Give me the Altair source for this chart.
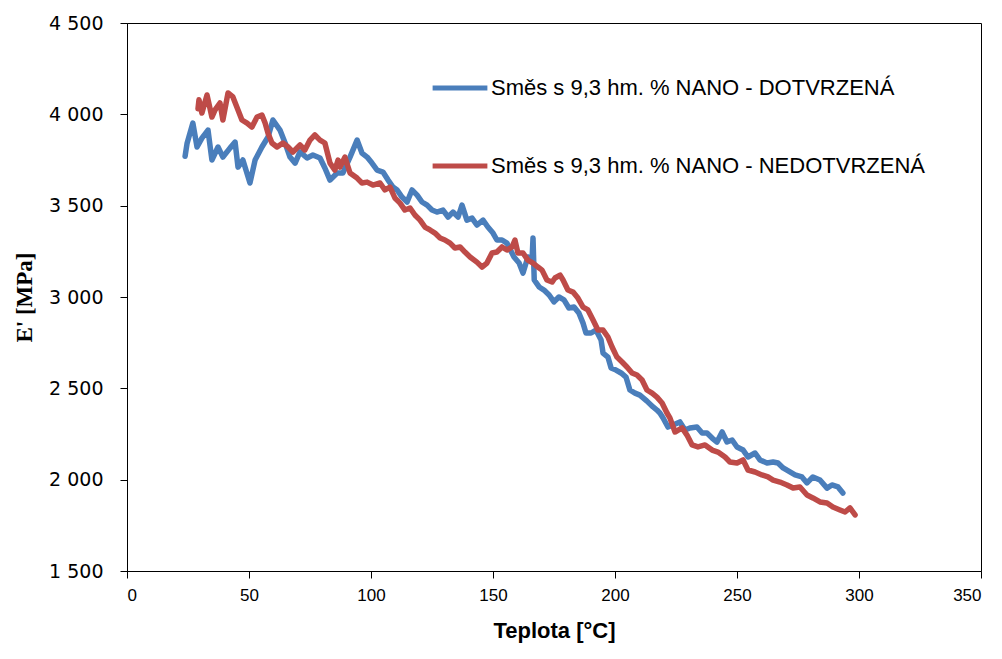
import altair as alt
import pandas as pd

series_names = ["Směs s 9,3 hm. % NANO - DOTVRZENÁ", "Směs s 9,3 hm. % NANO - NEDOTVRZENÁ"]
series_colors = ["#4A7EBB", "#BE4B48"]

blue_T = [23.8, 24.6, 27.0, 28.7, 30.7, 33.2, 34.8, 37.3, 39.3, 42.2, 44.3, 45.5, 47.5, 50.4, 52.5, 55.3,
          57.8, 59.8, 62.7, 64.8, 66.8, 68.9, 70.9, 73.8, 76.2, 79.1, 81.1, 83.2, 86.1, 88.5, 91.4, 94.3,
          96.3, 98.4, 100.4, 102.5, 104.9, 107.0, 109.0, 110.7, 112.7, 114.8, 116.8, 118.9, 120.9, 123.0,
          125.0, 127.0, 129.5, 131.6, 133.6, 135.7, 137.3, 139.3, 141.4, 143.4, 145.9, 147.9, 150.0, 151.6,
          153.7, 155.7, 158.6, 160.7, 162.3, 164.3, 166.0, 166.4, 166.9, 168.9, 170.9, 173.0, 175.0, 177.0,
          179.1, 181.1, 183.2, 185.2, 186.9, 188.1, 190.2, 192.2, 194.3, 195.1, 197.1, 198.4, 200.4, 202.5,
          204.5, 206.1, 208.2, 210.2, 213.1, 215.6, 217.2, 218.4, 219.7, 221.7, 223.8, 226.6, 228.7, 230.7,
          233.6, 235.7, 237.7, 239.8, 241.8, 243.9, 245.9, 248.0, 250.0, 252.5, 254.5, 257.4, 259.4, 262.3,
          264.8, 266.8, 268.9, 271.7, 273.8, 276.6, 278.7, 281.1, 284.0, 286.9, 288.9, 291.4, 293.4]
blue_E = [3770, 3840, 3952, 3821, 3870, 3914, 3750, 3821, 3766, 3815, 3848, 3711, 3750, 3624, 3750, 3821,
          3876, 3969, 3914, 3843, 3766, 3733, 3794, 3761, 3777, 3761, 3706, 3640, 3679, 3679, 3766, 3859,
          3788, 3766, 3733, 3695, 3684, 3640, 3602, 3586, 3547, 3520, 3586, 3558, 3520, 3503,
          3476, 3465, 3476, 3438, 3465, 3438, 3503, 3421, 3432, 3394, 3421, 3383, 3350, 3312,
          3312, 3295, 3219, 3186, 3131, 3219, 3202, 3323, 3093, 3055, 3038, 3011, 2973, 3000,
          2984, 2940, 2945, 2912, 2857, 2803, 2803, 2819, 2764, 2693, 2671, 2611, 2600, 2584,
          2562, 2491, 2474, 2463, 2430, 2398, 2381, 2365, 2338, 2288, 2299, 2316, 2272, 2283,
          2288, 2255, 2255, 2228, 2206, 2261, 2206, 2217, 2179, 2162, 2124, 2146, 2108, 2091,
          2097, 2091, 2064, 2042, 2026, 2015, 1982, 2015, 1998, 1954, 1971, 1960, 1927]

red_T = [29.1, 29.5, 30.7, 32.8, 34.8, 36.1, 38.1, 39.3, 41.4, 43.4, 45.5, 47.1, 49.2, 51.2, 53.3, 55.3,
         56.6, 57.8, 59.4, 61.5, 63.9, 66.0, 68.0, 70.9, 72.9, 75.0, 77.0, 79.1, 81.1, 83.2, 85.2, 86.5,
         87.3, 89.3, 91.4, 94.3, 96.3, 98.4, 100.8, 103.7, 105.7, 107.8, 109.8, 111.9, 113.9, 116.0,
         118.0, 120.1, 122.1, 124.2, 126.2, 128.3, 130.3, 132.4, 134.4, 136.5, 138.5, 140.6, 143.4, 145.5,
         147.5, 149.6, 151.6, 153.7, 155.7, 157.8, 159.0, 160.2, 162.3, 164.3, 166.4, 168.4, 170.1, 172.1,
         174.2, 175.4, 177.5, 178.7, 180.7, 182.8, 184.8, 186.9, 188.9, 191.0, 193.0, 195.1, 197.1, 198.8,
         200.8, 202.9, 204.9, 207.0, 209.0, 211.1, 213.1, 215.2, 217.2, 219.3, 221.3, 222.5, 224.6, 227.5,
         229.5, 231.6, 234.0, 236.9, 239.8, 242.2, 245.1, 247.1, 250.0, 252.5, 254.5, 257.4, 260.2, 262.7,
         264.8, 267.6, 270.5, 273.0, 275.8, 278.7, 281.1, 284.0, 286.9, 289.3, 292.2, 294.3, 296.3, 298.4]
red_E = [4030, 4080, 4007, 4106, 3985, 4024, 4062, 3969, 4117, 4095, 4024, 3969, 3952, 3930, 3985, 3996,
         3952, 3897, 3843, 3821, 3843, 3821, 3794, 3832, 3805, 3859, 3887, 3859, 3843, 3733, 3695, 3750,
         3711, 3766, 3679, 3651, 3624, 3629, 3613, 3624, 3586, 3602, 3542, 3514, 3476, 3487,
         3449, 3421, 3383, 3367, 3350, 3323, 3312, 3295, 3268, 3274, 3246, 3219, 3191, 3164,
         3186, 3241, 3246, 3274, 3257, 3274, 3312, 3241, 3241, 3202, 3186, 3164, 3147, 3093,
         3082, 3104, 3120, 3093, 3038, 3027, 2994, 2945, 2929, 2874, 2819, 2819, 2781, 2726,
         2671, 2644, 2617, 2584, 2573, 2546, 2491, 2474, 2452, 2420, 2365, 2338, 2261, 2283,
         2244, 2190, 2179, 2190, 2162, 2151, 2124, 2097, 2091, 2108, 2053, 2042, 2026, 2015,
         1998, 1987, 1971, 1954, 1960, 1916, 1900, 1878, 1872, 1850, 1834, 1823, 1845, 1807]

x_ticks = [0, 50, 100, 150, 200, 250, 300, 350]
y_ticks = [1500, 2000, 2500, 3000, 3500, 4000, 4500]

df = pd.concat([
    pd.DataFrame({"T": blue_T, "E": blue_E, "s": series_names[0]}),
    pd.DataFrame({"T": red_T, "E": red_E, "s": series_names[1]}),
], ignore_index=True)

chart = alt.Chart(df).mark_line(strokeWidth=5.5, strokeCap="round", strokeJoin="round").encode(
    x=alt.X("T:Q", scale=alt.Scale(domain=[0, 350], nice=False),
            axis=alt.Axis(values=x_ticks, title="Teplota [°C]", grid=False, tickSize=7,
                          labelPadding=9, titlePadding=17, labelFontSize=17, titleFontSize=22,
                          labelFont="Liberation Sans", titleFont="Liberation Sans",
                          titleFontWeight="bold", domainColor="black", tickColor="black",
                          labelColor="black", titleColor="black")),
    y=alt.Y("E:Q", scale=alt.Scale(domain=[1500, 4500], nice=False),
            axis=alt.Axis(values=y_ticks, title="E' [MPa]", grid=False, tickSize=7,
                          labelExpr="replace(format(datum.value, ',d'), ',', ' ')",
                          labelPadding=17, titlePadding=12, labelFontSize=19, titleFontSize=23,
                          labelFont="DejaVu Sans", titleFont="Liberation Serif",
                          titleFontWeight="bold", domainColor="black", tickColor="black",
                          labelColor="black", titleColor="black")),
    color=alt.Color("s:N", scale=alt.Scale(domain=series_names, range=series_colors),
                    legend=alt.Legend(title=None, orient="none", legendX=303, legendY=35,
                                      symbolType="stroke", symbolSize=3000, symbolStrokeWidth=5,
                                      labelFontSize=22, labelFont="Liberation Sans",
                                      labelColor="black", rowPadding=37, labelOffset=1,
                                      labelLimit=700)),
).properties(
    width=854, height=548,
    autosize=alt.AutoSizeParams(type="none"),
    padding={"left": 127, "top": 23, "right": 21, "bottom": 88},
).configure_view(stroke="black", strokeWidth=1)

chart.save("out.html", embed_options={"renderer": "svg", "actions": False})
